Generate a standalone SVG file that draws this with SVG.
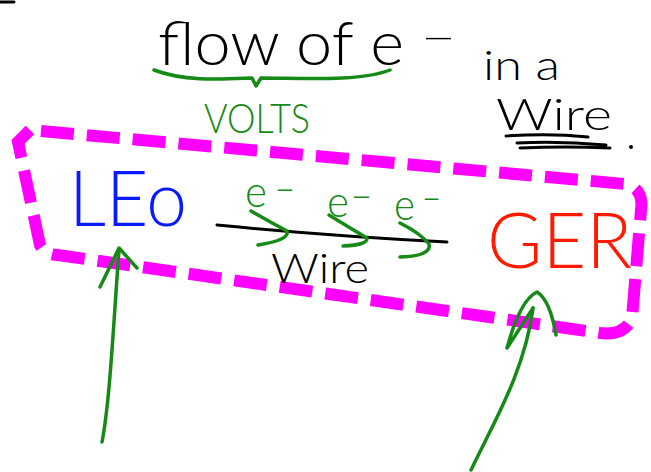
<svg xmlns="http://www.w3.org/2000/svg" width="651" height="472" viewBox="0 0 651 472">
  <style>
    .hand { font-family: "Lato", "Roboto", "Open Sans", "DejaVu Sans", sans-serif; font-weight: 300; }
    .ink { fill: none; stroke-linecap: round; stroke-linejoin: round; }
    .green { stroke: #168a16; stroke-width: 3.5; }
    .black { stroke: #000; stroke-width: 3; }
    .eminus { font-size: 44px; fill: #168a16; }
  </style>
  <rect width="651" height="472" fill="#fff"/>
  <path d="M0,2 L14,2" class="ink black" stroke-width="4"/>

  <g id="title">
    <text class="hand" x="158" y="65" font-size="62" fill="#000" textLength="246" lengthAdjust="spacingAndGlyphs">flow of e</text>
    <text class="hand" x="421" y="52" font-size="40" fill="#000" textLength="35" lengthAdjust="spacingAndGlyphs">−</text>
    <text class="hand" x="483" y="80" font-size="42" fill="#000" textLength="77" lengthAdjust="spacingAndGlyphs">in a</text>
    <text class="hand" x="496" y="130" font-size="44" fill="#000" textLength="116" lengthAdjust="spacingAndGlyphs">Wire</text>
    <path d="M506,136 Q 550,133 588,137" class="ink black"/>
    <path d="M517,143 Q 560,141 606,145 M520,148 Q 565,146 610,148" class="ink black"/>
    <circle cx="631" cy="147" r="2" fill="#000"/>
  </g>

  <g id="volts">
    <path d="M154,70 C 185,82 225,79 252,78 L256,86 L261,78 C 300,78 360,82 390,70" class="ink green"/>
    <text class="hand" x="204" y="133" font-size="42" fill="#168a16" textLength="106" lengthAdjust="spacingAndGlyphs">VOLTS</text>
  </g>

  <g id="region">
    <path d="M30,130 L18,142 L40,245 Q 45,255 58,255 L600,333 Q 625,336 632,318 L641,210 Q 644,188 625,184 Z" fill="none" stroke="#ff00ff" stroke-width="12" stroke-dasharray="33 13"/>
  </g>

  <g id="leo">
    <text class="hand" x="69" y="226" font-size="77" fill="#0a1aff" textLength="118" lengthAdjust="spacingAndGlyphs">LEo</text>
  </g>

  <g id="wire">
    <path d="M217,225 Q 330,236 447,242" class="ink black"/>
    <text class="hand" x="271" y="283" font-size="42" fill="#000" textLength="98" lengthAdjust="spacingAndGlyphs">Wire</text>
    <text class="hand eminus" x="245" y="207" textLength="22" lengthAdjust="spacingAndGlyphs">e</text>
    <text class="hand eminus" x="275" y="205" textLength="20" lengthAdjust="spacingAndGlyphs">−</text>
    <text class="hand eminus" x="327" y="217" textLength="22" lengthAdjust="spacingAndGlyphs">e</text>
    <text class="hand eminus" x="351" y="212" textLength="21" lengthAdjust="spacingAndGlyphs">−</text>
    <text class="hand eminus" x="394" y="220" textLength="21" lengthAdjust="spacingAndGlyphs">e</text>
    <text class="hand eminus" x="422" y="214" textLength="19" lengthAdjust="spacingAndGlyphs">−</text>
    <path d="M251,211 Q 270,222 287,231 Q 290,240 258,245" class="ink green"/>
    <path d="M329,215 Q 350,228 367,238 Q 368,245 343,246" class="ink green"/>
    <path d="M400,223 Q 420,233 429,244 Q 432,256 400,257" class="ink green"/>
  </g>

  <g id="ger">
    <text class="hand" x="487" y="268" font-size="76" fill="#ff1a00" textLength="145" lengthAdjust="spacingAndGlyphs">GER</text>
  </g>

  <g id="connectors">
    <path d="M102,442 C 110,400 113,330 119,250" class="ink green"/>
    <path d="M100,287 L119,248 L137,268" class="ink green"/>
    <path d="M471,470 C 495,420 525,370 533,308" class="ink green"/>
    <path d="M507,348 Q 520,300 537,292 Q 550,300 556,335 M533,308 L507,348" class="ink green"/>
  </g>
</svg>
